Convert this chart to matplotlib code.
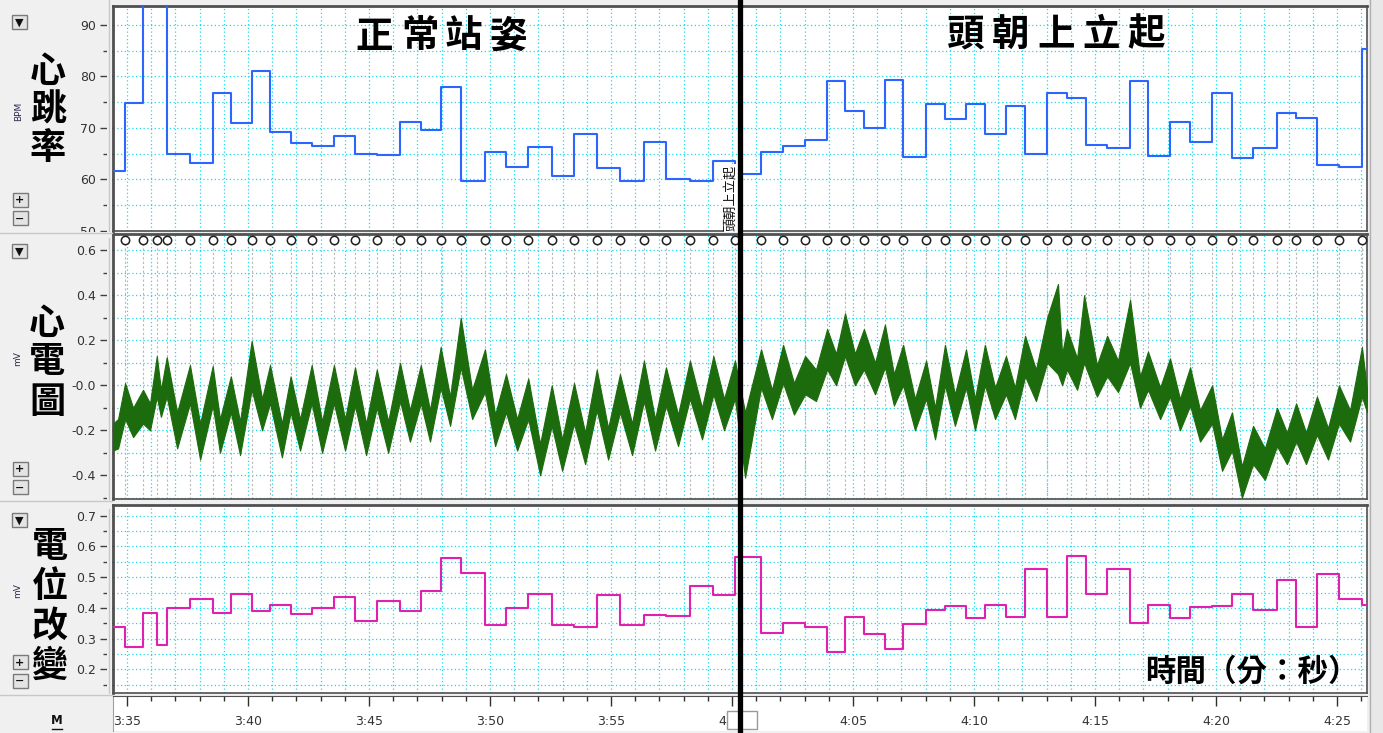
import numpy as np
import matplotlib
matplotlib.use("Agg")
import matplotlib.pyplot as plt
from matplotlib.patches import Rectangle
from matplotlib.lines import Line2D
from matplotlib.ticker import MultipleLocator, FuncFormatter
import matplotlib.transforms as mtransforms

CJK = ['Noto Sans CJK TC', 'DejaVu Sans']

# time window shown (seconds from start of record)
t_start, t_end = 214.42, 266.24
mark_t = 240.33          # event: 頭朝上立起

# R-wave times (s)
beat_t = [214.92, 215.66, 216.23, 216.64, 217.60, 218.54, 219.29, 220.15, 220.91, 221.76,
          222.63, 223.55, 224.42, 225.32, 226.28, 227.14, 227.96, 228.79, 229.79, 230.66,
          231.58, 232.55, 233.47, 234.41, 235.37, 236.36, 237.27, 238.26, 239.23, 240.12,
          241.20, 242.11, 243.02, 243.93, 244.67, 245.45, 246.32, 247.07, 248.02, 248.80,
          249.67, 250.45, 251.32, 252.11, 253.02, 253.84, 254.63, 255.50, 256.45, 257.19,
          258.10, 258.93, 259.84, 260.66, 261.53, 262.52, 263.31, 264.17, 265.08, 266.03]

# heart rate (BPM): value before first beat, then value after each beat
hr_first = 61.6
hr_after = [74.8, 106.0, 145.0, 64.9, 63.2, 76.8, 71.0, 81.1, 69.1, 67.0,
            66.5, 68.4, 65.0, 64.7, 71.2, 69.6, 78.0, 59.7, 65.3, 62.3,
            66.3, 60.6, 68.9, 62.1, 59.7, 67.25, 60.1, 59.7, 63.5, 61.1,
            65.3, 66.5, 67.7, 79.2, 73.3, 70.0, 79.4, 64.4, 74.7, 71.7,
            74.7, 68.9, 74.25, 64.9, 76.8, 75.9, 66.7, 66.1, 79.2, 64.5,
            71.2, 67.25, 76.8, 64.2, 66.1, 72.8, 72.0, 62.8, 62.3, 85.3]

# potential change (mV), same layout as heart rate
pot_first = 0.338
pot_after = [0.272, 0.384, 0.279, 0.400, 0.428, 0.384, 0.444, 0.390, 0.411, 0.380,
             0.400, 0.436, 0.357, 0.423, 0.390, 0.456, 0.562, 0.513, 0.344, 0.400,
             0.445, 0.344, 0.338, 0.442, 0.344, 0.376, 0.373, 0.471, 0.442, 0.566,
             0.318, 0.350, 0.338, 0.256, 0.370, 0.315, 0.266, 0.347, 0.393, 0.405,
             0.367, 0.411, 0.370, 0.526, 0.369, 0.570, 0.444, 0.527, 0.350, 0.411,
             0.366, 0.404, 0.405, 0.444, 0.393, 0.491, 0.338, 0.512, 0.428, 0.411]

# ECG trace envelope (top / bottom of trace, mV)
ecg_t = [214.42, 214.63, 214.92, 215.25, 215.66, 215.95, 216.23, 216.40, 216.64, 217.07,
         217.60, 218.02, 218.54, 218.84, 219.29, 219.67, 220.15, 220.58, 220.91, 221.40,
         221.76, 222.15, 222.63, 223.06, 223.55, 224.01, 224.42, 224.88, 225.32, 225.79,
         226.28, 226.69, 227.14, 227.52, 227.96, 228.35, 228.79, 229.26, 229.79, 230.21,
         230.66, 231.12, 231.58, 232.07, 232.55, 232.98, 233.47, 233.93, 234.41, 234.88,
         235.37, 235.87, 236.36, 236.82, 237.27, 237.77, 238.26, 238.76, 239.23, 239.67,
         240.12, 240.54, 241.20, 241.65, 242.11, 242.56, 243.02, 243.47, 243.93, 244.30,
         244.67, 245.08, 245.45, 245.91, 246.32, 246.69, 247.07, 247.56, 248.02, 248.39,
         248.80, 249.21, 249.67, 250.04, 250.45, 250.87, 251.32, 251.69, 252.11, 252.56,
         253.02, 253.47, 253.64, 253.84, 254.26, 254.55, 255.08, 255.50, 255.95, 256.45,
         256.86, 257.19, 257.69, 258.10, 258.51, 258.93, 259.34, 259.84, 260.25, 260.66,
         261.07, 261.53, 262.02, 262.52, 262.93, 263.31, 263.72, 264.17, 264.63, 265.08,
         265.54, 266.03, 266.24]
ecg_hi = [-0.17, -0.15, 0.01, -0.10, -0.02, -0.08, 0.13, -0.02, 0.125, -0.12,
          0.09, -0.17, 0.086, -0.15, 0.04, -0.16, 0.197, -0.06, 0.09, -0.17,
          0.04, -0.15, 0.09, -0.16, 0.09, -0.15, 0.08, -0.17, 0.07, -0.16,
          0.10, -0.11, 0.09, -0.11, 0.17, -0.05, 0.30, -0.02, 0.16, -0.13,
          0.05, -0.15, 0.03, -0.26, 0.0, -0.24, 0.01, -0.21, 0.07, -0.19,
          0.05, -0.17, 0.11, -0.15, 0.08, -0.13, 0.11, -0.10, 0.13, -0.06,
          0.11, -0.12, 0.16, -0.02, 0.18, 0.01, 0.13, 0.07, 0.25, 0.14,
          0.32, 0.14, 0.25, 0.10, 0.27, 0.05, 0.18, -0.06, 0.11, -0.10,
          0.18, -0.04, 0.16, -0.06, 0.18, -0.01, 0.13, -0.01, 0.22, 0.07,
          0.30, 0.45, 0.14, 0.25, 0.12, 0.40, 0.09, 0.22, 0.11, 0.38,
          0.04, 0.15, -0.01, 0.12, -0.06, 0.08, -0.11, 0.0, -0.24, -0.12,
          -0.36, -0.18, -0.28, -0.10, -0.21, -0.08, -0.21, -0.05, -0.19, 0.0,
          -0.11, 0.17, -0.02]
ecg_lo = [-0.29, -0.28, -0.15, -0.23, -0.17, -0.20, -0.05, -0.14, -0.05, -0.28,
          -0.08, -0.33, -0.09, -0.30, -0.12, -0.31, -0.02, -0.20, -0.08, -0.32,
          -0.12, -0.29, -0.08, -0.30, -0.08, -0.29, -0.09, -0.31, -0.10, -0.30,
          -0.07, -0.25, -0.08, -0.25, -0.01, -0.18, 0.08, -0.15, -0.03, -0.27,
          -0.12, -0.29, -0.15, -0.40, -0.18, -0.38, -0.17, -0.35, -0.11, -0.33,
          -0.12, -0.31, -0.07, -0.29, -0.09, -0.27, -0.06, -0.24, -0.04, -0.20,
          -0.06, -0.41, -0.01, -0.15, 0.01, -0.13, -0.04, -0.07, 0.07, 0.0,
          0.13, 0.0, 0.07, -0.04, 0.08, -0.09, 0.0, -0.20, -0.06, -0.24,
          0.0, -0.18, -0.01, -0.20, 0.0, -0.15, -0.04, -0.15, 0.04, -0.07,
          0.10, 0.05, 0.0, 0.07, -0.02, 0.10, -0.05, 0.04, -0.03, 0.10,
          -0.10, -0.02, -0.15, -0.05, -0.20, -0.09, -0.25, -0.17, -0.38, -0.29,
          -0.50, -0.35, -0.42, -0.27, -0.35, -0.25, -0.35, -0.22, -0.33, -0.17,
          -0.25, -0.05, -0.12]

W, H = 1383, 733
fig = plt.figure(figsize=(W / 100, H / 100), dpi=100, facecolor='#f0f0f0')


def box(x0, y0, x1, y1):
    return [x0 / W, 1 - y1 / H, (x1 - x0) / W, (y1 - y0) / H]


def ptext(x, y, s, **kw):
    return fig.text(x / W, 1 - y / H, s, **kw)


grid_kw = dict(color='#18dcec', linestyle=(0, (1, 2)), linewidth=0.9)


def style_panel(ax, ylim, major, minor, fmt):
    ax.set_facecolor('white')
    ax.set_xlim(t_start, t_end)
    ax.set_ylim(*ylim)
    ax.xaxis.set_major_locator(MultipleLocator(1))
    ax.tick_params(axis='x', which='both', length=0, labelbottom=False)
    ax.yaxis.set_major_locator(MultipleLocator(major))
    ax.yaxis.set_minor_locator(MultipleLocator(minor))
    ax.yaxis.set_major_formatter(FuncFormatter(fmt))
    ax.tick_params(axis='y', which='major', direction='out', length=9.4, width=1,
                   color='#404040', labelsize=9, labelcolor='#333333', pad=3)
    ax.tick_params(axis='y', which='minor', direction='out', length=7.2, width=1,
                   color='#404040')
    ax.grid(True, which='major', axis='both', **grid_kw)
    ax.grid(True, which='minor', axis='y', **grid_kw)
    ax.set_axisbelow(True)
    for s in ax.spines.values():
        s.set_color('#505050')
        s.set_linewidth(1.2)
    ax.spines['left'].set_linewidth(2)
    ax.spines['top'].set_linewidth(2)


ax_hr = fig.add_axes(box(113, 6, 1367, 231))
ax_ecg = fig.add_axes(box(113, 234, 1367, 499))
ax_pot = fig.add_axes(box(113, 505, 1367, 693))
ax_time = fig.add_axes(box(113, 696, 1367, 731))

style_panel(ax_hr, (49.94, 93.7), 10, 5, lambda v, p: f'{v:.0f}')
style_panel(ax_ecg, (-0.505, 0.672), 0.2, 0.1,
            lambda v, p: '-0.0' if abs(v) < 1e-9 else f'{v:.1f}')
style_panel(ax_pot, (0.123, 0.735), 0.1, 0.05, lambda v, p: f'{v:.1f}')

# heart rate
hr_t = np.r_[t_start, beat_t, t_end]
hr_v = np.r_[hr_first, hr_after, hr_after[-1]]
ax_hr.plot(hr_t, hr_v, drawstyle='steps-post', color='#2d66ff', lw=1.5, zorder=3)

# ECG with R-wave event marks
for b in beat_t:
    ax_ecg.axvline(b, color='#b8b8b8', lw=0.8, ls=(0, (2, 2)), zorder=1)
ax_ecg.fill_between(ecg_t, ecg_lo, ecg_hi, color='#1c6b0c', lw=0.8, zorder=3)
trans = mtransforms.blended_transform_factory(ax_ecg.transData, ax_ecg.transAxes)
ax_ecg.plot(beat_t, [0.977] * len(beat_t), transform=trans, ls='none', marker='o',
            ms=6, mfc='white', mec='#202020', mew=1.1, clip_on=False, zorder=5)

# potential change
pot_t = np.r_[t_start, beat_t, t_end]
pot_v = np.r_[pot_first, pot_after, pot_after[-1]]
ax_pot.plot(pot_t, pot_v, drawstyle='steps-post', color='#e020b0', lw=1.5, zorder=3)

# time ruler
ax_time.set_facecolor('white')
ax_time.set_xlim(t_start, t_end)
ax_time.set_ylim(0, 1)
ax_time.set_yticks([])
ax_time.xaxis.set_major_locator(MultipleLocator(5))
ax_time.xaxis.set_minor_locator(MultipleLocator(1))
ax_time.tick_params(axis='x', which='both', direction='in', top=True, bottom=False,
                    labelbottom=False, labeltop=False, color='#303030', width=1)
ax_time.tick_params(axis='x', which='major', length=7)
ax_time.tick_params(axis='x', which='minor', length=3.5)
for s in ax_time.spines.values():
    s.set_visible(False)
ax_time.spines['top'].set_visible(True)
ax_time.spines['top'].set_color('#505050')
ax_time.spines['left'].set_visible(True)
ax_time.spines['left'].set_color('#a0a0a0')
for t in range(215, 267, 5):
    ax_time.text(t, 0.28, f'{t // 60}:{t % 60:02d}', ha='center', va='center',
                 fontsize=9, color='#333333', clip_on=True)
# slider handle over the ruler
ax_time.add_patch(Rectangle((0, 0), 1, 1, transform=mtransforms.Affine2D().scale(30, 18)
                            + mtransforms.ScaledTranslation(727 / 100, (H - 729) / 100,
                                                            fig.dpi_scale_trans),
                            facecolor='white', edgecolor='#9a9a9a', lw=1, zorder=6,
                            clip_on=False))

# event text beside the marker line
ax_hr.text(mark_t - 0.1, 49.94, '頭朝上立起', rotation=90, ha='right', va='bottom',
           fontsize=9.5, family=CJK, color='#111111', zorder=6,
           bbox=dict(facecolor='white', edgecolor='none', pad=0.5))

# left strip separator and right scroll strip
fig.add_artist(Rectangle((107 / W, 1 - 695 / H), 5 / W, 695 / H, transform=fig.transFigure,
                         facecolor='#f0f0f0', edgecolor='none', zorder=2))
fig.add_artist(Line2D([108.5 / W] * 2, [1 - 695 / H, 1], transform=fig.transFigure,
                      color='#c8c8c8', lw=1, zorder=2))
for y0, y1 in [(231.5, 234), (499.5, 504.5), (693.5, 696)]:
    fig.add_artist(Rectangle((60 / W, 1 - (y1 + 4) / H), 52 / W, (y1 + 4 - y0) / H,
                             transform=fig.transFigure, facecolor='#f0f0f0',
                             edgecolor='none', zorder=2))
    fig.add_artist(Line2D([0, 112 / W], [1 - (y0 + 1) / H] * 2, transform=fig.transFigure,
                          color='#c8c8c8', lw=1, zorder=2))
fig.add_artist(Rectangle((1369 / W, 0), 14 / W, 1, transform=fig.transFigure,
                         facecolor='#e8e8e8', edgecolor='none', zorder=2))
fig.add_artist(Line2D([1369.5 / W] * 2, [0, 1], transform=fig.transFigure,
                      color='#b0b0b0', lw=1, zorder=2))

# marker line through all panels
fig.canvas.draw()
xm = ax_hr.transData.transform((mark_t, 0))[0] / W
fig.add_artist(Line2D([xm, xm], [0, 1], transform=fig.transFigure, color='black',
                      lw=3.8, zorder=10))

# small control buttons on the left
def button(cx, cy, sym):
    fig.add_artist(Rectangle(((cx - 7.5) / W, 1 - (cy + 7) / H), 15 / W, 14 / H,
                             transform=fig.transFigure, facecolor='#e4e4e4',
                             edgecolor='#7a7a7a', lw=1, zorder=3))
    ptext(cx, cy + 0.5, sym, ha='center', va='center', fontsize=8, weight='bold',
          color='#111111', zorder=4)


for cy in (22, 251, 520):
    button(19.5, cy, '▼')
for cy in (199.5, 469, 662):
    button(20, cy, '+')
for cy in (218.5, 487, 680.5):
    button(20, cy, '−')

# channel names and units
label_kw = dict(ha='center', va='center', fontsize=26, weight='bold', family=CJK,
                color='black', zorder=5)
for ch, y in zip('心跳率', (72, 110, 149)):
    ptext(48, y, ch, **label_kw)
for ch, y in zip('心電圖', (324, 362, 403)):
    ptext(47, y, ch, **label_kw)
for ch, y in zip('電位改變', (546, 586, 626, 666)):
    ptext(50, y, ch, **label_kw)
unit_kw = dict(ha='center', va='center', fontsize=6.5, rotation=90, color='#2a2a50')
ptext(19, 111, 'BPM', **unit_kw)
ptext(18, 359, 'mV', **unit_kw)
ptext(18, 591, 'mV', **unit_kw)

ptext(57, 721, 'M', ha='center', va='center', fontsize=8.5, weight='bold', color='#111111')
fig.add_artist(Line2D([52 / W, 62 / W], [1 - 729 / H] * 2, transform=fig.transFigure,
                      color='#111111', lw=1))

# phase titles
title_kw = dict(ha='center', va='center', fontsize=27, weight='bold', family=CJK,
                color='black', zorder=6)
for ch, x in zip('正常站姿', (374, 420, 463, 508)):
    ptext(x, 36, ch, **title_kw)
for ch, x in zip('頭朝上立起', (966, 1011, 1056, 1101, 1146)):
    ptext(x, 34, ch, **title_kw)
ptext(1252, 672, '時間（分：秒）', ha='center', va='center', fontsize=22, weight='bold',
      family=CJK, color='black', zorder=6)

fig.savefig('out.png', dpi=100, facecolor=fig.get_facecolor())
